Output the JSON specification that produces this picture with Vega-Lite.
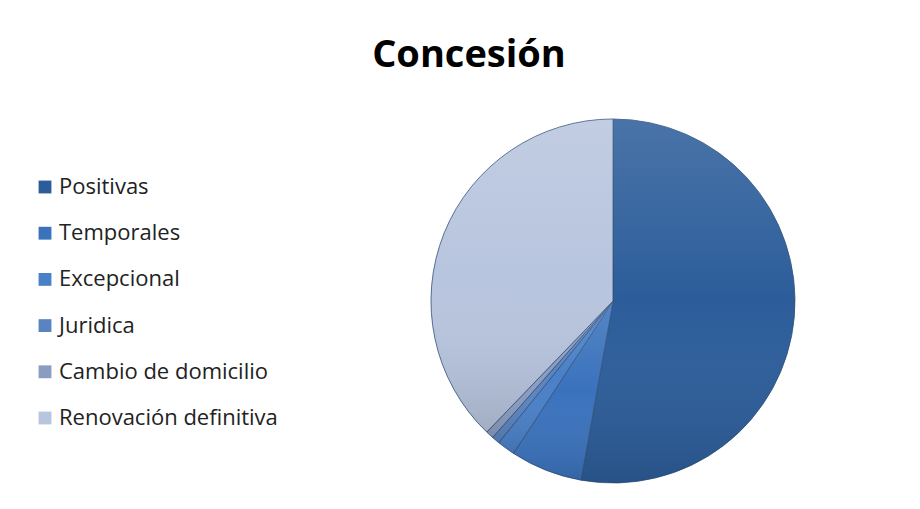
{
  "$schema": "https://vega.github.io/schema/vega-lite/v6.json",
  "width": 380,
  "height": 380,
  "autosize": {"type": "none"},
  "padding": {"left": 423, "top": 111, "right": 117, "bottom": 18},
  "background": "#ffffff",
  "title": {
    "text": "Concesión",
    "font": "Open Sans",
    "fontWeight": "bold",
    "fontSize": 38,
    "color": "#000000",
    "anchor": "middle",
    "frame": "group",
    "dx": -144,
    "offset": 36
  },
  "data": {
    "values": [
      {"tipo": "Positivas", "valor": 52.8, "orden": 1},
      {"tipo": "Temporales", "valor": 6.4, "orden": 2},
      {"tipo": "Excepcional", "valor": 1.6, "orden": 3},
      {"tipo": "Juridica", "valor": 0.7, "orden": 4},
      {"tipo": "Cambio de domicilio", "valor": 0.7, "orden": 5},
      {"tipo": "Renovación definitiva", "valor": 37.8, "orden": 6}
    ]
  },
  "encoding": {
    "theta": {"field": "valor", "type": "quantitative", "stack": true},
    "order": {"field": "orden", "type": "quantitative"}
  },
  "layer": [
    {
      "mark": {"type": "arc", "outerRadius": 182, "stroke": "#2f4f7a", "strokeWidth": 0.8},
      "encoding": {
        "color": {
          "field": "tipo",
          "type": "nominal",
          "scale": {
            "domain": ["Positivas", "Temporales", "Excepcional", "Juridica", "Cambio de domicilio", "Renovación definitiva"],
            "range": ["#2c5d9a", "#3a72bc", "#4a80c8", "#5a84c0", "#8a9cc0", "#b8c5de"]
          },
          "legend": {
            "title": null,
            "orient": "none",
            "legendX": -389,
            "legendY": 65,
            "symbolType": "square",
            "symbolSize": 165,
            "symbolStrokeWidth": 0,
            "labelFont": "Open Sans",
            "labelFontSize": 22,
            "labelColor": "#222222",
            "labelOffset": 3,
            "rowPadding": 24.2,
            "labelLimit": 400
          }
        }
      }
    },
    {
      "mark": {
        "type": "arc",
        "outerRadius": 182,
        "fill": {
          "gradient": "linear",
          "x1": 0, "y1": 0, "x2": 0, "y2": 1,
          "stops": [
            {"offset": 0, "color": "rgba(255,255,255,0.14)"},
            {"offset": 0.5, "color": "rgba(255,255,255,0)"},
            {"offset": 1, "color": "rgba(0,0,0,0.12)"}
          ]
        },
        "strokeWidth": 0
      }
    }
  ],
  "config": {"view": {"stroke": null}}
}
